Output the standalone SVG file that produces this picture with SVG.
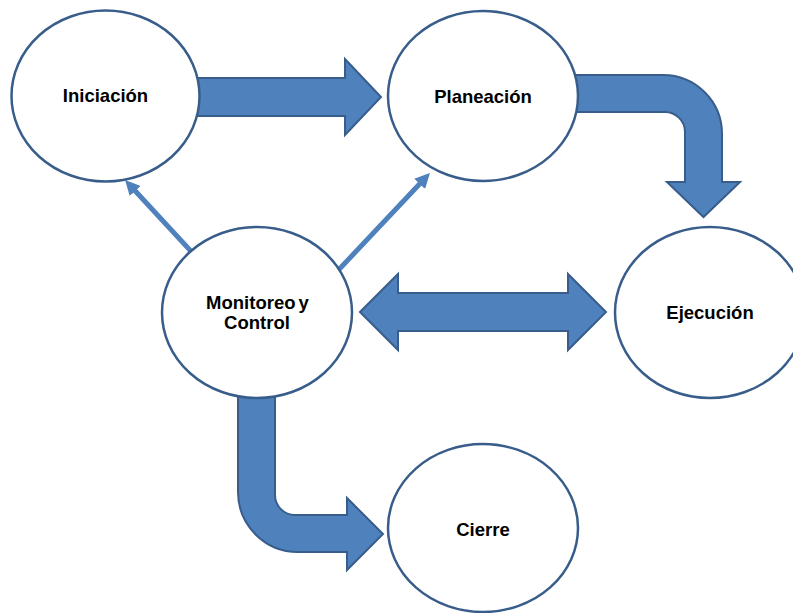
<svg xmlns="http://www.w3.org/2000/svg" width="793" height="613" viewBox="0 0 793 613">
  <style>
    .block { fill: #4F81BD; stroke: #385D8A; stroke-width: 2; stroke-linejoin: miter; }
    .thin { stroke: #4F81BD; stroke-width: 5; fill: none; }
    .node ellipse { fill: #FFFFFF; stroke: #385D8A; stroke-width: 2.5; }
    .node text { font-family: "Liberation Sans", Arial, sans-serif; font-weight: bold; font-size: 18.5px; fill: #000000; text-anchor: middle; }
  </style>
  <defs>
    <marker id="head" viewBox="0 0 10 10" refX="2" refY="5" markerWidth="3" markerHeight="3" orient="auto" markerUnits="strokeWidth">
      <path d="M0,0 L10,5 L0,10 Z" fill="#4F81BD"/>
    </marker>
  </defs>

  <g id="connectors">
    <!-- Iniciación to Planeación -->
    <path class="block" d="M195,78 L345,78 L345,59 L381,97 L345,135 L345,116 L195,116 Z"/>
    <!-- Planeación bending down to Ejecución -->
    <path class="block" d="M570,75 L663,75 A59,59 0 0 1 722,134 L722,182 L740,182 L703.5,217 L667,182 L685,182 L685,132 A20,20 0 0 0 665,112 L570,112 Z"/>
    <!-- Monitoreo y Control bending right to Cierre -->
    <path class="block" d="M238,390 L238,492 A60,60 0 0 0 298,552 L347,552 L347,570 L383,534 L347,498 L347,515 L295,515 A20,20 0 0 1 275,495 L275,390 Z"/>
    <!-- Monitoreo y Control with Ejecución, both ways -->
    <path class="block" d="M360,312 L398,274 L398,293 L568,293 L568,274 L606,312 L568,350 L568,331 L398,331 L398,350 Z"/>
    <!-- feedback to Iniciación and Planeación -->
    <line class="thin" x1="200" y1="261" x2="133.2" y2="188.8" marker-end="url(#head)"/>
    <line class="thin" x1="330" y1="279" x2="421.7" y2="181.7" marker-end="url(#head)"/>
  </g>

  <g id="iniciacion" class="node">
    <ellipse cx="105.5" cy="96" rx="94" ry="85.5"/>
    <text x="105.5" y="101.5">Iniciación</text>
  </g>
  <g id="planeacion" class="node">
    <ellipse cx="483" cy="96" rx="95" ry="85"/>
    <text x="483" y="102.5">Planeación</text>
  </g>
  <g id="monitoreo" class="node">
    <ellipse cx="257" cy="312.5" rx="95" ry="85.5"/>
    <text x="257.5" y="309" word-spacing="-2">Monitoreo y</text>
    <text x="257" y="329">Control</text>
  </g>
  <g id="ejecucion" class="node">
    <ellipse cx="710" cy="312.5" rx="95" ry="85.5"/>
    <text x="710" y="318.5">Ejecución</text>
  </g>
  <g id="cierre" class="node">
    <ellipse cx="483" cy="528" rx="95" ry="84"/>
    <text x="483" y="535.5">Cierre</text>
  </g>
</svg>
